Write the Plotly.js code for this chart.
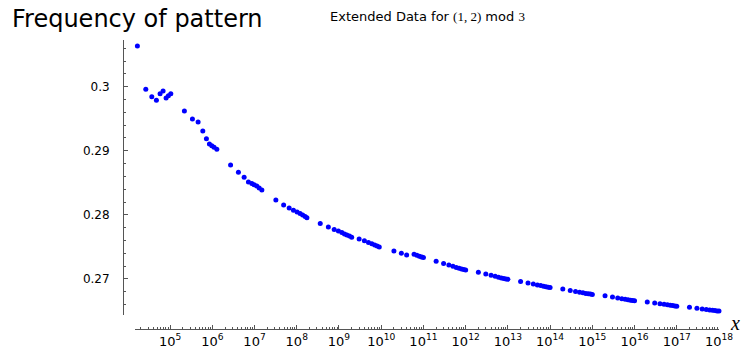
<!DOCTYPE html>
<html>
<head>
<meta charset="utf-8">
<script src="https://cdn.plot.ly/plotly-3.0.1.min.js"></script>
<style>html,body{margin:0;padding:0;background:#fff}</style>
</head>
<body>
<div id="chart" style="width:751px;height:357px"></div>
<script>
// sample points below 1e10 (read off the picture, not on a k*10^n grid)
const xLow = [
  1.68e4, 2.66e4, 3.69e4, 4.74e4, 5.79e4, 6.83e4, 8.04e4, 9.11e4, 1.04e5,
  2.18e5, 3.38e5, 4.61e5, 5.95e5, 7.25e5, 8.54e5, 9.73e5, 1.10e6, 1.28e6,
  2.71e6, 4.15e6, 5.67e6, 7.17e6, 8.63e6, 9.78e6, 1.13e7, 1.29e7, 1.49e7,
  3.20e7, 4.89e7, 6.61e7, 8.35e7, 1.02e8, 1.20e8, 1.38e8, 1.58e8, 1.74e8,
  3.6e8, 5.6e8, 7.7e8, 9.7e8, 1.17e9, 1.35e9, 1.54e9, 1.77e9, 2.0e9,
  3e9, 4e9, 5e9, 6e9, 7e9, 8e9, 9e9
];
const yLow = [
  0.30635, 0.29959, 0.29844, 0.29788, 0.29891, 0.29933, 0.29824, 0.29860, 0.29891,
  0.29621, 0.29496, 0.29449, 0.29309, 0.29189, 0.29106, 0.29080, 0.29055, 0.29023,
  0.28778, 0.28665, 0.28587, 0.28513, 0.28490, 0.28471, 0.28451, 0.28420, 0.28388,
  0.28232, 0.28154, 0.28108, 0.28073, 0.28045, 0.28022, 0.27998, 0.27975, 0.27956,
  0.27866, 0.27811, 0.27772, 0.27749, 0.27725, 0.27702, 0.27686, 0.27671, 0.27652,
  0.27624, 0.27596, 0.27569, 0.27549, 0.27530, 0.27515, 0.27499
];

// sample points from 1e10 up
const xHigh = [
  2e10, 3e10, 4e10, 6e10, 7e10, 8e10, 9e10, 1e11,
  2e11, 3e11, 4e11, 5e11, 6e11, 7e11, 8e11, 9e11, 1e12,
  2e12, 3e12, 4e12, 5e12, 6e12, 7e12, 8e12, 9e12, 1e13,
  2e13, 3e13, 4e13, 5e13, 6e13, 7e13, 8e13, 9e13, 1e14,
  2e14, 3e14, 4e14, 5e14, 6e14, 7e14, 8e14, 9e14, 1e15,
  2e15, 3e15, 4e15, 5e15, 6e15, 7e15, 8e15, 9e15, 1e16,
  2e16, 3e16, 4e16, 5e16, 6e16, 7e16, 8e16, 9e16, 1e17,
  2e17, 3e17, 4e17, 5e17, 6e17, 7e17, 8e17, 9e17, 1e18
];
const yHigh = [
  0.27437, 0.27401, 0.27374, 0.27387, 0.27370, 0.27356, 0.27343, 0.27335,
  0.27278, 0.27242, 0.27218, 0.27197, 0.27181, 0.27167, 0.27156, 0.27147, 0.27140,
  0.27105, 0.27078, 0.27058, 0.27042, 0.27028, 0.27017, 0.27008, 0.27000, 0.26995,
  0.26961, 0.26938, 0.26922, 0.26906, 0.26899, 0.26888, 0.26878, 0.26872, 0.26867,
  0.26844, 0.26821, 0.26805, 0.26794, 0.26785, 0.26775, 0.26769, 0.26764, 0.26760,
  0.26738, 0.26719, 0.26704, 0.26691, 0.26682, 0.26675, 0.26669, 0.26665, 0.26660,
  0.26641, 0.26626, 0.26615, 0.26607, 0.26599, 0.26591, 0.26585, 0.26580, 0.26576,
  0.26558, 0.26543, 0.26532, 0.26523, 0.26516, 0.26512, 0.26507, 0.26502, 0.26499
];

const xTickVals = [1e5, 1e6, 1e7, 1e8, 1e9, 1e10, 1e11, 1e12, 1e13, 1e14, 1e15, 1e16, 1e17, 1e18];
const xTickText = ["10<sup>5</sup>", "10<sup>6</sup>", "10<sup>7</sup>", "10<sup>8</sup>", "10<sup>9</sup>",
  "10<sup>10</sup>", "10<sup>11</sup>", "10<sup>12</sup>", "10<sup>13</sup>", "10<sup>14</sup>",
  "10<sup>15</sup>", "10<sup>16</sup>", "10<sup>17</sup>", "10<sup>18</sup>"];
const yTickVals = [0.27, 0.28, 0.29, 0.3];
const yTickText = ["0.27", "0.28", "0.29", "0.3"];

const axisColor = "#555";

const trace = {
  x: xLow.concat(xHigh),
  y: yLow.concat(yHigh),
  type: "scatter",
  mode: "markers",
  marker: { color: "#0000ff", size: 5 },
  cliponaxis: false,
  hoverinfo: "none",
};

const layout = {
  width: 751,
  height: 357,
  margin: { l: 123, r: 32, t: 40, b: 28 },
  paper_bgcolor: "#fff",
  plot_bgcolor: "#fff",
  showlegend: false,
  xaxis: {
    type: "log",
    range: [4.17, 18.0],
    domain: [0.0202, 1],
    anchor: "free",
    position: 0,
    showline: true, linecolor: axisColor, linewidth: 1,
    showgrid: false, zeroline: false,
    ticks: "inside", ticklen: 4, tickcolor: axisColor,
    tickmode: "array", tickvals: xTickVals, ticktext: xTickText,
    tickfont: { family: "DejaVu Sans", size: 13, color: "#000" },
    minor: { ticks: "inside", ticklen: 2, tickcolor: axisColor, dtick: "D1", showgrid: false },
  },
  yaxis: {
    range: [0.26438, 0.30729],
    domain: [0.0484, 1],
    anchor: "free",
    position: 0,
    showline: true, linecolor: axisColor, linewidth: 1,
    showgrid: false, zeroline: false,
    ticks: "inside", ticklen: 4, tickcolor: axisColor,
    tickmode: "array", tickvals: yTickVals, ticktext: yTickText,
    tickfont: { family: "DejaVu Sans", size: 12, color: "#000" },
    ticklabelstandoff: 11,
    minor: { ticks: "inside", ticklen: 2, tickcolor: axisColor, dtick: 0.002, showgrid: false },
  },
  annotations: [
    {
      text: "Frequency of pattern",
      xref: "paper", yref: "paper", x: -0.1896, y: 1.0727,
      xanchor: "left", yanchor: "middle", showarrow: false,
      font: { family: "DejaVu Sans", size: 24, color: "#000" },
    },
    {
      text: "Extended Data for <span style=\"font-family:'Liberation Serif'\">(1, 2)</span> mod <span style=\"font-family:'Liberation Serif'\">3</span>",
      xref: "paper", yref: "paper", x: 0.5109, y: 1.0796,
      xanchor: "center", yanchor: "middle", showarrow: false,
      font: { family: "DejaVu Sans", size: 13, color: "#000" },
    },
    {
      text: "<i>x</i>",
      xref: "paper", yref: "paper", x: 1.0268, y: 0.0208,
      xanchor: "center", yanchor: "middle", showarrow: false,
      font: { family: "Liberation Serif", size: 20, color: "#000" },
    },
  ],
};

Plotly.newPlot("chart", [trace], layout, { staticPlot: true, displayModeBar: false });
</script>
</body>
</html>
